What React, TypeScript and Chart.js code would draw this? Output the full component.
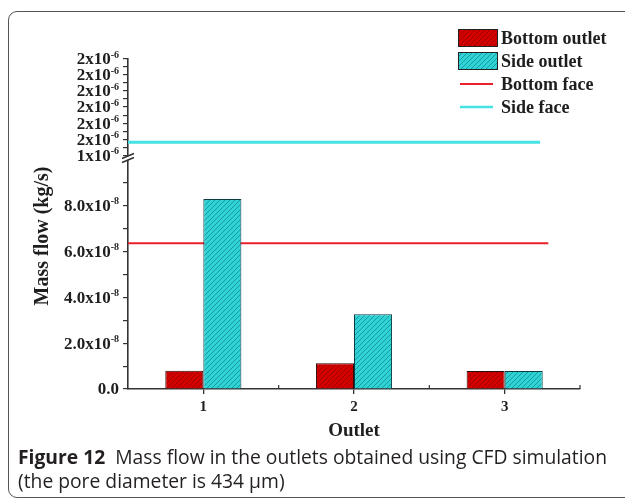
import React, { useEffect, useRef } from 'react';
import { Chart, registerables } from 'chart.js';

Chart.register(...registerables);

// ---- data ----
const outlets = ['1', '2', '3'];
const bottomOutlet = [0.8e-8, 1.12e-8, 0.79e-8];
const sideOutlet = [8.3e-8, 3.26e-8, 0.79e-8];
const bottomFaceValue = 6.36e-8;
const sideFaceValue = 1.48e-6;
const faceLineStart = 0.5;
const bottomFaceEnd = 3.29;
const sideFaceEnd = 3.235;

const lowerTickValues = [0, 1e-8, 2e-8, 3e-8, 4e-8, 5e-8, 6e-8, 7e-8, 8e-8, 9e-8];
const lowerTickBase = ['0.0', '', '2.0x10', '', '4.0x10', '', '6.0x10', '', '8.0x10', ''];
const lowerTickExp = ['', '', '-8', '', '-8', '', '-8', '', '-8', ''];
const upperTickValues = [1.4e-6, 1.45e-6, 1.5e-6, 1.55e-6, 1.6e-6, 1.65e-6, 1.7e-6, 1.75e-6, 1.8e-6, 1.85e-6, 1.9e-6, 1.95e-6, 2.0e-6];
const upperTickBase = ['1x10', '', '2x10', '', '2x10', '', '2x10', '', '2x10', '', '2x10', '', '2x10'];
const upperTickExp = ['-6', '', '-6', '', '-6', '', '-6', '', '-6', '', '-6', '', '-6'];
const legendLabels = ['Bottom outlet', 'Side outlet', 'Bottom face', 'Side face'];
const yTitle = 'Mass flow (kg/s)';
const xTitle = 'Outlet';

const AXIS = '#333';
const TEXT = '#1e1e1e';
const SERIF = "'Liberation Serif', 'Times New Roman', serif";
const RED_BG = '#d40000';
const RED_FG = '#9e0000';
const CY_BG = '#2fd3d6';
const CY_FG = '#1a9aa0';
const RED_LINE = '#e8202a';
const CY_LINE = '#45e3e3';

function makeHatch(bg: string, fg: string) {
  const c = document.createElement('canvas');
  c.width = 5;
  c.height = 5;
  const g = c.getContext('2d')!;
  g.fillStyle = bg;
  g.fillRect(0, 0, 5, 5);
  g.strokeStyle = fg;
  g.lineWidth = 1;
  g.beginPath();
  g.moveTo(0, 5);
  g.lineTo(5, 0);
  g.moveTo(-1, 1);
  g.lineTo(1, -1);
  g.moveTo(4, 6);
  g.lineTo(6, 4);
  g.stroke();
  return g.createPattern(c, 'repeat')!;
}

export default function App() {
  const ref = useRef<HTMLCanvasElement>(null);

  useEffect(() => {
    const canvas = ref.current!;
    const ctx = canvas.getContext('2d')!;
    const redPat = makeHatch(RED_BG, RED_FG);
    const cyPat = makeHatch(CY_BG, CY_FG);
    const positions = outlets.map(Number);

    const drawYLabels = (c: any, scale: any, values: number[], base: string[], exp: string[]) => {
      const right = scale.right - 9;
      values.forEach((v, i) => {
        if (!base[i]) return;
        const y = scale.getPixelForValue(v);
        c.font = `bold 10px ${SERIF}`;
        const ew = exp[i] ? c.measureText(exp[i]).width : 0;
        c.textAlign = 'left';
        c.textBaseline = 'alphabetic';
        if (exp[i]) c.fillText(exp[i], right - ew, y - 1.5);
        c.font = `bold 17px ${SERIF}`;
        c.textAlign = 'right';
        c.textBaseline = 'middle';
        c.fillText(base[i], right - ew, y + 1);
      });
    };

    const extras = {
      id: 'extras',
      afterDraw(chart: any) {
        const c = chart.ctx;
        const area = chart.chartArea;
        const xs = chart.scales.x;
        const yl = chart.scales.y;
        const yt = chart.scales.yTop;
        c.save();
        // y tick labels with superscript exponents
        c.fillStyle = TEXT;
        drawYLabels(c, yl, lowerTickValues, lowerTickBase, lowerTickExp);
        drawYLabels(c, yt, upperTickValues, upperTickBase, upperTickExp);
        // minor x ticks at category boundaries
        c.strokeStyle = AXIS;
        c.lineWidth = 1.2;
        positions.forEach((p) => {
          const px = xs.getPixelForValue(p + 0.5);
          c.beginPath();
          c.moveTo(px, area.bottom);
          c.lineTo(px, area.bottom - 4);
          c.stroke();
        });
        // axis break
        const bx = area.left;
        const by = yl.top - 2;
        c.fillStyle = '#fff';
        c.fillRect(bx - 3, by - 2, 6, 4);
        c.strokeStyle = AXIS;
        c.lineWidth = 1.4;
        c.beginPath();
        c.moveTo(bx - 6, by + 0.5);
        c.lineTo(bx + 6, by - 4.5);
        c.moveTo(bx - 6, by + 4.5);
        c.lineTo(bx + 6, by - 0.5);
        c.stroke();
        // y title
        c.fillStyle = TEXT;
        c.font = `bold 20px ${SERIF}`;
        c.textAlign = 'center';
        c.textBaseline = 'middle';
        c.translate(43, 236);
        c.rotate(-Math.PI / 2);
        c.fillText(yTitle, 0, 0);
        c.restore();

        // legend
        c.save();
        const lx = 458;
        const rows = [38, 61, 84, 107];
        c.font = `bold 18px ${SERIF}`;
        c.textAlign = 'left';
        c.textBaseline = 'middle';
        [redPat, cyPat].forEach((pat, i) => {
          c.fillStyle = pat;
          c.fillRect(lx, rows[i] - 9, 40, 18);
          c.strokeStyle = '#222';
          c.lineWidth = 1;
          c.strokeRect(lx + 0.5, rows[i] - 8.5, 39, 17);
        });
        c.lineWidth = 2;
        c.strokeStyle = RED_LINE;
        c.beginPath();
        c.moveTo(lx + 2, rows[2]);
        c.lineTo(lx + 35, rows[2]);
        c.stroke();
        c.lineWidth = 2.5;
        c.strokeStyle = CY_LINE;
        c.beginPath();
        c.moveTo(lx + 2, rows[3]);
        c.lineTo(lx + 35, rows[3]);
        c.stroke();
        c.fillStyle = TEXT;
        legendLabels.forEach((t, i) => c.fillText(t, 501, rows[i] + 1));
        c.restore();
      },
    };

    const chart = new Chart(ctx, {
      type: 'bar',
      data: {
        datasets: [
          {
            type: 'bar',
            label: legendLabels[0],
            data: positions.map((x, i) => ({ x, y: bottomOutlet[i] })),
            backgroundColor: redPat,
            borderColor: '#2a0a0a',
            borderWidth: 1,
            yAxisID: 'y',
            barPercentage: 1,
            categoryPercentage: 0.505,
          },
          {
            type: 'bar',
            label: legendLabels[1],
            data: positions.map((x, i) => ({ x, y: sideOutlet[i] })),
            backgroundColor: cyPat,
            borderColor: '#0f3c40',
            borderWidth: 1,
            yAxisID: 'y',
            barPercentage: 1,
            categoryPercentage: 0.505,
          },
          {
            type: 'line',
            label: legendLabels[2],
            data: [
              { x: faceLineStart, y: bottomFaceValue },
              { x: bottomFaceEnd, y: bottomFaceValue },
            ],
            yAxisID: 'y',
            borderColor: RED_LINE,
            borderWidth: 2,
            pointRadius: 0,
            grouped: false,
          },
          {
            type: 'line',
            label: legendLabels[3],
            data: [
              { x: faceLineStart, y: sideFaceValue },
              { x: sideFaceEnd, y: sideFaceValue },
            ],
            yAxisID: 'yTop',
            borderColor: CY_LINE,
            borderWidth: 3,
            pointRadius: 0,
            grouped: false,
          },
        ] as any,
      },
      options: {
        responsive: false,
        animation: false,
        events: [],
        layout: { padding: { top: 59, right: 45, left: 0, bottom: 0 } },
        plugins: {
          legend: { display: false },
          tooltip: { enabled: false },
          title: { display: false },
        },
        scales: {
          x: {
            type: 'linear',
            min: 0.5,
            max: 3.5,
            offset: false,
            afterBuildTicks: (s: any) => {
              s.ticks = positions.map((v) => ({ value: v }));
            },
            grid: {
              display: true,
              drawOnChartArea: false,
              offset: false,
              tickLength: 5,
              color: AXIS,
              lineWidth: 1.3,
            },
            border: { display: true, color: AXIS, width: 1.6 },
            ticks: {
              autoSkip: false,
              maxRotation: 0,
              font: { family: SERIF, size: 15, weight: 'bold' },
              color: TEXT,
              padding: 4,
              callback: (_v: any, i: number) => outlets[i],
            },
            title: {
              display: true,
              text: xTitle,
              font: { family: SERIF, size: 19, weight: 'bold' },
              color: TEXT,
              padding: { top: 0, bottom: 3 },
            },
            afterFit: (s: any) => {
              s.height = 56;
            },
          } as any,
          y: {
            type: 'linear',
            position: 'left',
            stack: 'ys',
            stackWeight: 229,
            min: 0,
            max: 1e-7,
            afterBuildTicks: (s: any) => {
              s.ticks = lowerTickValues.map((v) => ({ value: v }));
            },
            ticks: { display: false, autoSkip: false },
            grid: { drawOnChartArea: false, tickLength: 5, color: AXIS, lineWidth: 1.2 },
            border: { display: true, color: AXIS, width: 1.6 },
            afterFit: (s: any) => {
              s.width = 128;
            },
          } as any,
          yTop: {
            type: 'linear',
            position: 'left',
            stack: 'ys',
            stackWeight: 101,
            min: 1.37e-6,
            max: 2.0e-6,
            afterBuildTicks: (s: any) => {
              s.ticks = upperTickValues.map((v) => ({ value: v }));
            },
            ticks: { display: false, autoSkip: false },
            grid: { drawOnChartArea: false, tickLength: 5, color: AXIS, lineWidth: 1.2 },
            border: { display: true, color: AXIS, width: 1.6 },
            afterFit: (s: any) => {
              s.width = 128;
            },
          } as any,
        },
      },
      plugins: [extras],
    });
    return () => chart.destroy();
  }, []);

  return (
    <div style={{ position: 'fixed', left: 0, top: 0, width: 625, height: 502, overflow: 'hidden', background: '#fff' }}>
      <div
        style={{
          position: 'absolute',
          left: 8,
          top: 11,
          width: 700,
          height: 487,
          border: '1.3px solid #555',
          borderRadius: 9,
          boxSizing: 'border-box',
        }}
      />
      <canvas ref={ref} width={625} height={445} style={{ position: 'absolute', left: 0, top: 0, width: 625, height: 445 }} />
      <div
        style={{
          position: 'absolute',
          left: 18,
          top: 445,
          width: 620,
          fontFamily: "'Open Sans', 'Noto Sans', sans-serif",
          fontSize: 19.3,
          lineHeight: '24px',
          color: '#231f20',
          whiteSpace: 'nowrap',
        }}
      >
        <div>
          <span style={{ fontWeight: 'bold' }}>Figure 12</span>
          <span>{'\u00a0\u00a0'}Mass flow in the outlets obtained using CFD simulation</span>
        </div>
        <div>(the pore diameter is 434 μm)</div>
      </div>
    </div>
  );
}
